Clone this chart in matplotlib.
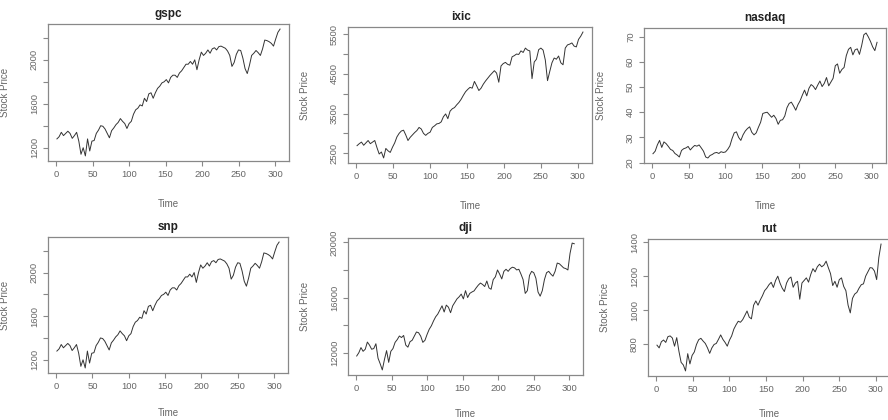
import matplotlib
matplotlib.use('Agg')
import matplotlib.pyplot as plt
import numpy as np

plt.rcParams['font.family'] = ['Liberation Sans', 'DejaVu Sans']

# weekly index, read every third week off the picture
time = np.arange(1, 308, 3)

gspc = [1280, 1300, 1340, 1310, 1330, 1350, 1330, 1285, 1310, 1340,
        1260, 1140, 1200, 1125, 1280, 1170, 1260, 1265, 1330, 1360,
        1400, 1395, 1370, 1330, 1290, 1355, 1380, 1410, 1430, 1465,
        1440, 1420, 1375, 1420, 1440, 1505, 1545, 1560, 1590, 1580,
        1650, 1620, 1690, 1700, 1650, 1700, 1740, 1760, 1790, 1800,
        1820, 1790, 1840, 1860, 1860, 1840, 1880, 1900, 1930, 1960,
        1960, 1985, 1960, 2000, 1910, 2000, 2070, 2040, 2060, 2090,
        2060, 2100, 2110, 2090, 2120, 2125, 2115, 2105, 2080, 2040,
        1940, 1975, 2050, 2090, 2085, 2015, 1920, 1875, 1950, 2040,
        2060, 2085, 2065, 2040, 2100, 2180, 2175, 2165, 2150, 2125,
        2190, 2250, 2280]

ixic = [2690, 2740, 2780, 2700, 2760, 2820, 2740, 2780, 2820, 2640,
        2480, 2530, 2380, 2620, 2560, 2520, 2650, 2760, 2910, 3000,
        3060, 3080, 2960, 2820, 2900, 2960, 3020, 3070, 3150, 3110,
        3000, 2950, 3000, 3030, 3150, 3190, 3240, 3250, 3290, 3420,
        3490, 3370, 3560, 3620, 3650, 3720, 3780, 3860, 3960, 4050,
        4110, 4160, 4140, 4310, 4200, 4080, 4140, 4240, 4320, 4390,
        4460, 4520, 4580, 4520, 4290, 4700, 4760, 4790, 4740, 4720,
        4930, 4960, 5000, 4990, 5080, 5040, 5150, 5100, 5080, 4380,
        4800, 4870, 5110, 5150, 5100, 4850, 4330, 4560, 4780, 4900,
        4870, 4950, 4780, 4730, 5150, 5230, 5250, 5280, 5200, 5180,
        5370, 5450, 5555]

nasdaq = [23.5, 24.5, 27.0, 28.8, 26.0, 28.2, 27.5, 26.4, 25.2, 24.8,
          23.6, 23.0, 22.2, 24.8, 25.5, 25.8, 26.4, 25.0, 26.0, 26.8,
          26.5, 27.0, 25.8, 24.5, 22.2, 21.8, 22.8, 23.2, 23.8, 24.0,
          23.6, 24.3, 24.0, 24.2, 25.2, 26.6, 29.5, 31.8, 32.2, 30.0,
          28.8, 31.0, 32.5, 33.5, 34.2, 32.0, 31.0, 31.8, 34.0, 36.0,
          39.5, 39.8, 40.0, 39.0, 38.0, 38.8, 37.5, 35.2, 36.8, 37.0,
          38.5, 41.8, 43.5, 44.0, 42.5, 40.8, 43.0, 44.6, 46.8, 48.8,
          46.5, 49.5, 51.0, 50.3, 49.0, 50.8, 52.4, 50.2, 51.5, 53.8,
          50.5, 52.0, 53.5, 58.5, 59.2, 55.5, 57.0, 57.8, 62.5, 65.0,
          65.8, 62.8, 64.8, 65.2, 63.0, 66.5, 70.8, 71.5, 70.0, 68.2,
          66.0, 64.5, 67.8]

snp = list(gspc)  # same series as gspc in the picture

dji = [11760, 12000, 12370, 12100, 12250, 12770, 12550, 12250, 12300, 12650,
       11600, 11200, 10750, 11500, 12150, 11300, 12100, 12300, 12750, 12950,
       13210, 13100, 13250, 12550, 12400, 12800, 12900, 13200, 13500, 13450,
       13200, 12750, 12900, 13330, 13700, 13950, 14300, 14600, 14800, 15100,
       15400, 14950, 15450, 15300, 14900, 15400, 15650, 15900, 16050, 16250,
       15900, 16500, 16000, 16300, 16400, 16480, 16700, 16900, 17050, 16950,
       16800, 17200, 16700, 16600, 17300, 17500, 18000, 17700, 17350, 17900,
       18050, 17900, 18100, 18200, 18150, 18000, 18050, 17700, 17300, 16300,
       16500, 17600, 17900, 17800, 17400, 16400, 16100, 16500, 17300, 17800,
       17900, 17700, 17550, 17900, 18500, 18450, 18300, 18150, 18100, 18000,
       19200, 19950, 19900]

rut = [796, 780, 816, 826, 812, 846, 850, 838, 790, 840,
       760, 695, 680, 645, 746, 686, 736, 756, 800, 828,
       836, 820, 806, 780, 748, 780, 800, 806, 830, 856,
       830, 812, 790, 825, 850, 890, 915, 936, 930, 945,
       970, 996, 960, 950, 1030, 1055, 1030, 1060, 1085, 1115,
       1130, 1150, 1164, 1134, 1175, 1200, 1160, 1130, 1110, 1160,
       1185, 1195, 1135, 1160, 1170, 1065, 1160, 1175, 1190, 1165,
       1210, 1244, 1225, 1255, 1270, 1255, 1265, 1288, 1250, 1215,
       1145, 1170, 1135, 1180, 1190, 1140, 1115, 1030, 985, 1070,
       1095, 1105, 1130, 1150, 1155, 1200, 1225, 1250, 1248, 1230,
       1180, 1310, 1388]

# y ticks and which of them R printed a label for
gspc_ticks = [1200, 1400, 1600, 1800, 2000, 2200]
gspc_shown = [1200, 1600, 2000]
ixic_ticks = [2500, 3000, 3500, 4000, 4500, 5000, 5500]
ixic_shown = [2500, 3500, 4500, 5500]
nasdaq_ticks = [20, 30, 40, 50, 60, 70]
dji_ticks = [12000, 14000, 16000, 18000, 20000]
dji_shown = [12000, 16000, 20000]
rut_ticks = [800, 1000, 1200, 1400]
time_ticks = [0, 50, 100, 150, 200, 250, 300]

W, H = 888, 420
GREY = '#666666'


def panel(box, title, values, ticks, shown, title_x=0.5, xlab_off=38):
    # box = left, top, right, bottom in pixels
    l, t, r, b = box
    ax = fig.add_axes([l / W, 1 - b / H, (r - l) / W, (b - t) / H])
    ax.plot(time, values, '-', color='#333333', lw=0.7)
    # R style 4% padding
    lo, hi = min(values), max(values)
    ax.set_ylim(lo - 0.04 * (hi - lo), hi + 0.04 * (hi - lo))
    ax.set_xlim(time[0] - 0.04 * (time[-1] - time[0]), time[-1] + 0.04 * (time[-1] - time[0]))
    ax.set_xticks(time_ticks)
    ax.set_yticks(ticks)
    ax.set_yticklabels([str(v) if v in shown else '' for v in ticks],
                       rotation=90, va='center')
    for s in ax.spines.values():
        s.set_color('#888888')
        s.set_linewidth(0.9)
    ax.tick_params(length=3.5, width=0.8, color='#888888', labelcolor=GREY,
                   labelsize=6.8)
    ax.tick_params(axis='x', pad=3)
    ax.tick_params(axis='y', pad=3)
    ax.set_title(title, fontsize=8.5, fontweight='bold', color='#222222',
                 x=title_x, pad=5)
    ax.set_xlabel('Time', fontsize=7, color=GREY)
    ax.set_ylabel('Stock Price', fontsize=7, color=GREY)
    ax.xaxis.set_label_coords(0.5, -xlab_off / (b - t))
    ax.yaxis.set_label_coords(-38 / (r - l), 0.5)
    return ax


fig = plt.figure(figsize=(W / 100, H / 100), dpi=100)

panel((48, 24, 289, 161), 'gspc', gspc, gspc_ticks, gspc_shown)
panel((348, 27, 592, 163), 'ixic', ixic, ixic_ticks, ixic_shown, title_x=0.462)
panel((644, 28, 886, 163), 'nasdaq', nasdaq, nasdaq_ticks, nasdaq_ticks)
panel((48, 237, 288, 373), 'snp', snp, gspc_ticks, gspc_shown, xlab_off=35)
panel((348, 238, 583, 375), 'dji', dji, dji_ticks, dji_shown, xlab_off=34)
panel((648, 239, 890, 376), 'rut', rut, rut_ticks, rut_ticks, xlab_off=33)

fig.savefig('out.png', dpi=100)
